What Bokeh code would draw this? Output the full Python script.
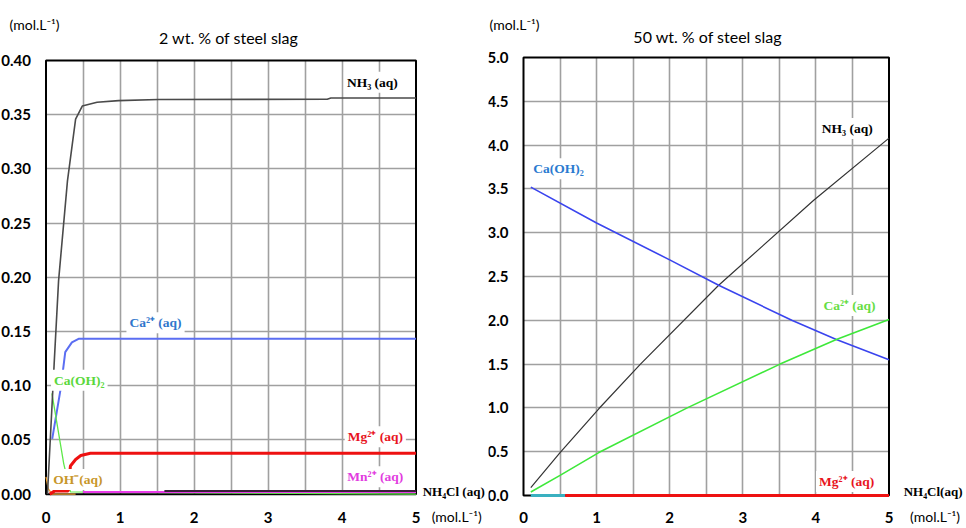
from bokeh.plotting import figure
from bokeh.layouts import row
from bokeh.models import Label, FixedTicker, NumeralTickFormatter, Range1d, Grid
from bokeh.embed import file_html
from bokeh.resources import INLINE

# ---------------- data: 2 wt.% of steel slag ----------------
nh3_x_l = [0.02, 0.11, 0.17, 0.29, 0.40, 0.49, 0.69, 0.98, 1.52, 3.80, 3.85, 5.00]
nh3_y_l = [0.0, 0.120, 0.197, 0.289, 0.346, 0.358, 0.3615, 0.363, 0.364, 0.3643, 0.3655, 0.3655]
ca_x_l = [0.084, 0.20, 0.26, 0.35, 0.44, 5.00]
ca_y_l = [0.051, 0.098, 0.131, 0.140, 0.1433, 0.1433]
caoh_x_l = [0.08, 0.24, 0.33, 5.00]
caoh_y_l = [0.093, 0.028, 0.002, 0.0]
mg_x_l = [0.05, 0.12, 0.30, 0.33, 0.40, 0.47, 0.60, 5.00]
mg_y_l = [0.0, 0.003, 0.003, 0.026, 0.032, 0.0356, 0.0377, 0.0377]
mn_x_l = [0.50, 5.00]
mn_y_l = [0.002, 0.002]
oh_x_l = [0.0, 0.03, 0.08, 0.40]
oh_y_l = [0.016, 0.005, 0.0, 0.0]
dark_x_l = [1.60, 5.00]
dark_y_l = [0.003, 0.003]

# ---------------- data: 50 wt.% of steel slag ----------------
nh3_x_r = [0.10, 0.50, 1.03, 1.60, 2.67, 3.97, 5.00]
nh3_y_r = [0.09, 0.49, 0.99, 1.50, 2.40, 3.37, 4.08]
caoh_x_r = [0.10, 1.00, 2.00, 2.67, 3.67, 4.28, 5.00]
caoh_y_r = [3.52, 3.11, 2.69, 2.40, 2.00, 1.78, 1.55]
ca_x_r = [0.10, 0.50, 1.03, 2.24, 3.51, 4.28, 5.00]
ca_y_r = [0.04, 0.23, 0.49, 1.00, 1.50, 1.78, 2.01]
teal_x_r = [0.10, 0.57]
teal_y_r = [0.0, 0.0]
mg_x_r = [0.57, 5.00]
mg_y_r = [0.0, 0.0]

# axis limits and ticks
X_MIN, X_MAX = 0.0, 5.0
Y_MAX_L, Y_MAX_R = 0.40, 5.0
x_ticks = [0, 1, 2, 3, 4, 5]
x_grid = [0.5, 1.0, 1.5, 2.0, 2.5, 3.0, 3.5, 4.0, 4.5]
y_ticks_l = [0.00, 0.05, 0.10, 0.15, 0.20, 0.25, 0.30, 0.35, 0.40]
y_ticks_r = [0.0, 0.5, 1.0, 1.5, 2.0, 2.5, 3.0, 3.5, 4.0, 4.5, 5.0]

SANS = "Lato"
SERIF = "Liberation Serif"
GRID = "#a0a0a0"
HAS_CROSS = "cross_bounds" in Grid.properties()


def base(w, h, view_x, view_y, ymax, yticks, fmt, xstand):
    # the plotting frame covers the whole figure so that outside texts are not clipped;
    # the visible chart box is the axis box [X_MIN, X_MAX] x [0, ymax]
    p = figure(frame_width=w, frame_height=h, x_range=Range1d(*view_x), y_range=Range1d(*view_y),
               output_backend="svg", toolbar_location=None,
               min_border_left=0, min_border_right=0, min_border_top=0, min_border_bottom=0)
    p.background_fill_color = "white"
    p.border_fill_color = "white"
    p.outline_line_color = None
    p.xaxis.fixed_location = 0
    p.yaxis.fixed_location = 0
    p.xaxis.ticker = FixedTicker(ticks=x_ticks)
    p.yaxis.ticker = FixedTicker(ticks=yticks)
    p.yaxis.formatter = NumeralTickFormatter(format=fmt)
    for ax in (p.xaxis, p.yaxis):
        ax.axis_line_color = None
        ax.major_tick_line_color = None
        ax.minor_tick_line_color = None
        ax.major_label_text_font = SANS
        ax.major_label_text_font_style = "bold"
        ax.major_label_text_font_size = "15px"
        ax.major_label_text_color = "black"
    p.xaxis.major_label_standoff = xstand
    p.yaxis.major_label_standoff = 9
    p.xgrid.ticker = FixedTicker(ticks=x_grid)
    p.ygrid.ticker = FixedTicker(ticks=yticks[1:-1])
    if HAS_CROSS:
        p.xgrid.cross_bounds = (0, ymax)
        p.ygrid.cross_bounds = (X_MIN, X_MAX)
        for g in (p.xgrid, p.ygrid):
            g.grid_line_color = GRID
            g.grid_line_width = 1.6
    else:
        p.xgrid.visible = False
        p.ygrid.visible = False
        p.segment(x0=x_grid, x1=x_grid, y0=[0] * len(x_grid), y1=[ymax] * len(x_grid),
                  line_color=GRID, line_width=1.6)
        yg = yticks[1:-1]
        p.segment(x0=[X_MIN] * len(yg), x1=[X_MAX] * len(yg), y0=yg, y1=yg,
                  line_color=GRID, line_width=1.6)
    # chart box (drawn before the series so that the series lie on top of it)
    p.quad(left=X_MIN, right=X_MAX, bottom=0, top=ymax, fill_color=None,
           line_color="black", line_width=2)
    return p


def lab(p, x, y, text, color, size="13.5px", font=SERIF, style="bold", align="center", bg="white"):
    p.add_layout(Label(x=x, y=y, text=text, text_color=color, text_font=font,
                       text_font_style=style, text_font_size=size, text_align=align,
                       text_baseline="middle", background_fill_color=bg, padding=3))


# ---------------- left figure ----------------
pl = base(488, 528, (-0.6149, 5.9797), (-0.0317, 0.4554), Y_MAX_L, y_ticks_l, "0.00", 12)
pl.line(ca_x_l, ca_y_l, line_color="#5b6ef2", line_width=2)
pl.line(caoh_x_l, caoh_y_l, line_color="#5fe84a", line_width=1.3)
pl.line(oh_x_l, oh_y_l, line_color="#f0a030", line_width=1.3)
pl.line(mn_x_l, mn_y_l, line_color="#e83ce8", line_width=2)
pl.line(dark_x_l, dark_y_l, line_color="#3a1f3a", line_width=2)
pl.line(mg_x_l, mg_y_l, line_color="#ee1111", line_width=3)
pl.line(nh3_x_l, nh3_y_l, line_color="#4a4a4a", line_width=1.6)

lab(pl, 4.41, 0.380, "NH₃ (aq)", "black")
lab(pl, 1.48, 0.158, "Ca²⁺ (aq)", "#2f76cc")
lab(pl, 0.45, 0.105, "Ca(OH)₂", "#5ad83c")
lab(pl, 4.45, 0.053, "Mg²⁺ (aq)", "#e8141e")
lab(pl, 4.45, 0.016, "Mn²⁺ (aq)", "#e23ce0")
lab(pl, 0.43, 0.0136, "OH⁻(aq)", "#c8962a")
lab(pl, 5.05, 0.0024, "NH₄Cl (aq)", "black", size="13px", align="left", bg=None)
lab(pl, -0.155, 0.4332, "(mol.L⁻¹)", "black", size="14px", font=SANS, style="normal", bg=None)
lab(pl, 2.47, 0.4212, "2 wt. % of steel slag", "black", size="16px", font=SANS, style="normal", bg=None)
lab(pl, 5.55, -0.0205, "(mol.L⁻¹)", "black", size="14px", font=SANS, style="normal", bg=None)

# ---------------- right figure ----------------
pr = base(478, 528, (-0.4788, 6.0602), (-0.3767, 5.6507), Y_MAX_R, y_ticks_r, "0.0", 10)
pr.line(nh3_x_r, nh3_y_r, line_color="#333333", line_width=1.2)
pr.line(caoh_x_r, caoh_y_r, line_color="#3a44ee", line_width=1.6)
pr.line(ca_x_r, ca_y_r, line_color="#3ee83a", line_width=1.6)
pr.line(teal_x_r, teal_y_r, line_color="#3ab0c0", line_width=3)
pr.line(mg_x_r, mg_y_r, line_color="#ee1111", line_width=3)

lab(pr, 4.43, 4.19, "NH₃ (aq)", "black")
lab(pr, 0.48, 3.73, "Ca(OH)₂", "#2a7ad0")
lab(pr, 4.46, 2.17, "Ca²⁺ (aq)", "#66dd44")
lab(pr, 4.42, 0.16, "Mg²⁺ (aq)", "#e8141e")
lab(pr, 5.16, 0.046, "NH₄Cl(aq)", "black", size="13px", align="left", bg=None)
lab(pr, -0.123, 5.377, "(mol.L⁻¹)", "black", size="14px", font=SANS, style="normal", bg=None)
lab(pr, 2.52, 5.24, "50 wt. % of steel slag", "black", size="16px", font=SANS, style="normal", bg=None)
lab(pr, 5.63, -0.235, "(mol.L⁻¹)", "black", size="14px", font=SANS, style="normal", bg=None)

layout = row(pl, pr)
open("out.html", "w").write(file_html(layout, INLINE))
